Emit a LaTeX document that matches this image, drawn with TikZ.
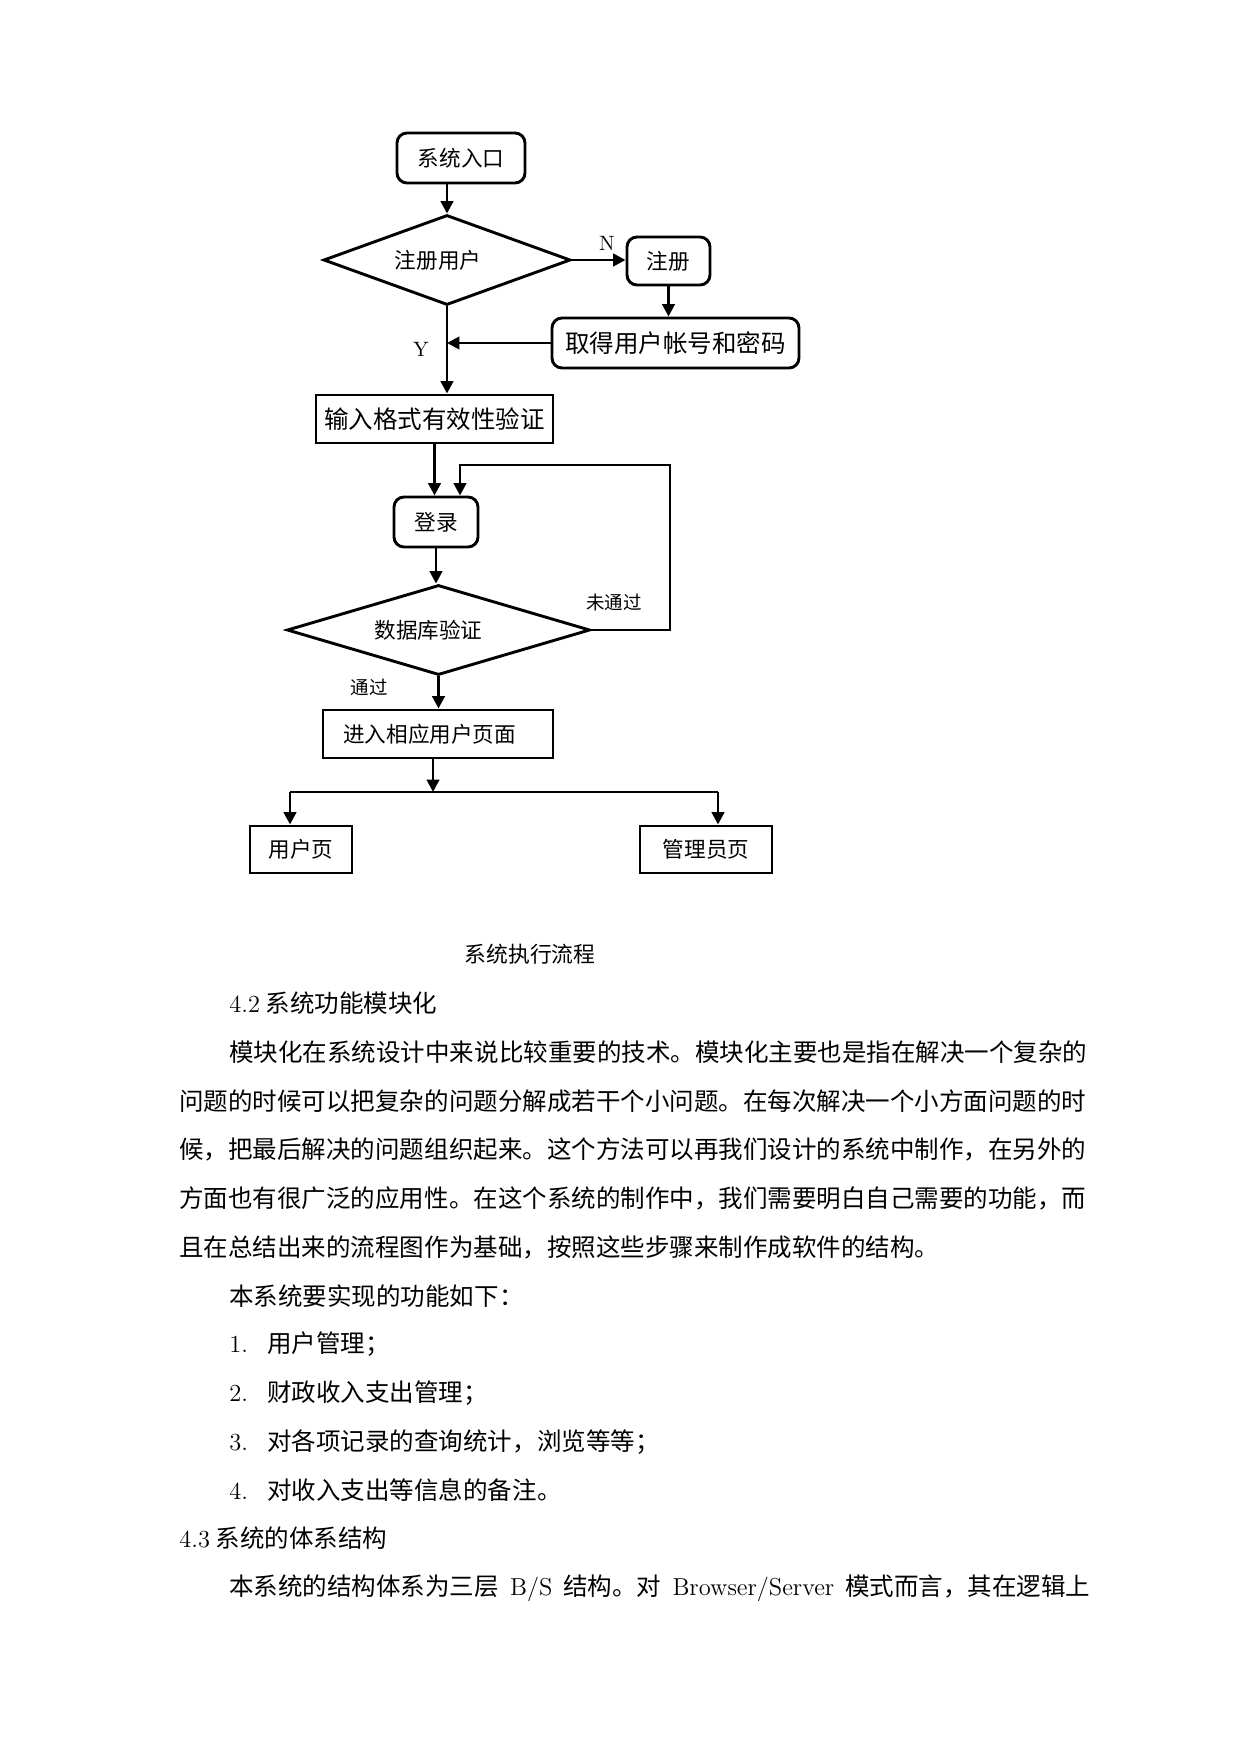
\documentclass[tikz,border=0pt]{standalone}
\usepackage{fontspec}
\newfontfamily\cjk{Noto Sans CJK SC}
\usetikzlibrary{shapes.geometric,arrows.meta,positioning}

% one pixel of the page
\newcommand{\pu}{0.16922mm}

\tikzset{
  rbox/.style={draw, line width=1.4pt, rounded corners=10*\pu, inner sep=0pt,
    font=\cjk\fontsize{10.4}{12}\selectfont},
  sbox/.style={draw, line width=1.4pt, inner sep=0pt,
    font=\cjk\fontsize{10.4}{12}\selectfont},
  dbox/.style={diamond, draw, line width=1.4pt, inner sep=0pt, aspect=3,
    font=\cjk\fontsize{10.4}{12}\selectfont},
  arr/.style={line width=1.4pt, -{Triangle[length=6pt,width=6pt]}},
  lbl/.style={inner sep=0pt, font=\cjk\fontsize{8.9}{10}\selectfont},
  yn/.style={inner sep=0pt, font=\rmfamily\fontsize{10}{12}\selectfont},
  txt/.style={anchor=west, inner sep=0pt, font=\cjk\fontsize{11.8}{14}\selectfont},
}

\begin{document}
\begin{tikzpicture}[x=\pu, y=-\pu]

		% page
		\fill[white] (0,0) rectangle (1241,1754);
		\useasboundingbox (0,0) rectangle (1241,1754);

		% Boxes
		\node[rbox, minimum width=128*\pu, minimum height=50*\pu] (entry) at (461,158) {系统入口};
		\node[dbox, minimum width=247*\pu, minimum height=90*\pu] (reg) at (447,260) {注册用户\kern3mm};
		\node[rbox, minimum width=83*\pu, minimum height=48*\pu] (signup) at (668.5,261) {注册};
		\node[rbox, minimum width=247*\pu, minimum height=50*\pu,
		  font=\cjk\fontsize{11.8}{14}\selectfont] (acct) at (675.5,343) {取得用户帐号和密码};
		\node[sbox, minimum width=237*\pu, minimum height=48*\pu,
		  font=\cjk\fontsize{11.8}{14}\selectfont] (check) at (434.5,419) {输入格式有效性验证};
		\node[rbox, minimum width=84*\pu, minimum height=50*\pu] (login) at (436,522) {登录};
		\node[dbox, minimum width=303*\pu, minimum height=90*\pu] (db) at (438.5,630) {数据库验证\kern3.4mm};
		\node[sbox, minimum width=230*\pu, minimum height=48*\pu] (enter) at (438,734) {进入相应用户页面\kern2.8mm};
		\node[sbox, minimum width=102*\pu, minimum height=47*\pu] (user) at (301,849.5) {用户页};
		\node[sbox, minimum width=132*\pu, minimum height=47*\pu] (admin) at (706,849.5) {管理员页};

		% Labels
		\node[yn] (n) at (607,243) {N};
		\node[yn] (y) at (421,349) {Y};
		\node[lbl] (fail) at (614,602) {未通过};
		\node[lbl] (pass) at (369,687) {通过};

		% Connectors
		\draw[arr] (entry.south -| reg.north) -- (reg.north);
		\draw[arr] (reg.east) -- (reg.east -| signup.west);
		\draw[arr] (signup.south) -- (signup.south |- acct.north);
		\draw[arr] (reg.south) -- (reg.south |- check.north);
		\draw[arr] (acct.west) -- (acct.west -| reg.south);
		\draw[arr] (check.south) -- (check.south |- login.north);
		\draw[arr] (login.south) -- (login.south |- db.north);
		\coordinate (loop) at (670,465);
		\draw[arr] (db.east) -| (loop) -| ([xshift=24*\pu]login.north);
		\draw[arr] (db.south) -- (db.south |- enter.north);
		\coordinate (sl) at (290,792);
		\coordinate (sr) at (718,792);
		\draw[arr] ([xshift=-5*\pu]enter.south) -- ([xshift=-5*\pu]enter.south |- sl);
		\draw[line width=1.4pt] (sl) -- (sr);
		\draw[arr] (sl) -- (sl |- user.north);
		\draw[arr] (sr) -- (sr |- admin.north);

		% Caption and text
		\node[inner sep=0pt, font=\cjk\fontsize{10.5}{12}\selectfont] (cap) at (530,954) {系统执行流程};
		\node[txt] (h42) at (229,1003) {{\rmfamily 4.2}\ 系统功能模块化};
		\node[txt] (l1) at (229,1052) {模块化在系统设计中来说比较重要的技术。模块化主要也是指在解决一个复杂的};
		\node[txt] (l2) at (179,1101) {问题的时候可以把复杂的问题分解成若干个小问题。在每次解决一个小方面问题的时};
		\node[txt] (l3) at (179,1149) {候，把最后解决的问题组织起来。这个方法可以再我们设计的系统中制作，在另外的};
		\node[txt] (l4) at (179,1198) {方面也有很广泛的应用性。在这个系统的制作中，我们需要明白自己需要的功能，而};
		\node[txt] (l5) at (179,1247) {且在总结出来的流程图作为基础，按照这些步骤来制作成软件的结构。};
		\node[txt] (l6) at (229,1296) {本系统要实现的功能如下：};
		\node[txt] (i1) at (229,1344) {\makebox[6.43mm][l]{\rmfamily 1.}用户管理；};
		\node[txt] (i2) at (229,1393) {\makebox[6.43mm][l]{\rmfamily 2.}财政收入支出管理；};
		\node[txt] (i3) at (229,1442) {\makebox[6.43mm][l]{\rmfamily 3.}对各项记录的查询统计，浏览等等；};
		\node[txt] (i4) at (229,1490) {\makebox[6.43mm][l]{\rmfamily 4.}对收入支出等信息的备注。};
		\node[txt] (h43) at (179,1538) {{\rmfamily 4.3}\ 系统的体系结构};
		\node[txt] (l7) at (229,1588) {\makebox[145.7mm][s]{本系统的结构体系为三层 {\rmfamily B/S} 结构。对 {\rmfamily Browser/Server} 模式而言，其在逻辑上}};

	\end{tikzpicture}
\end{document}
